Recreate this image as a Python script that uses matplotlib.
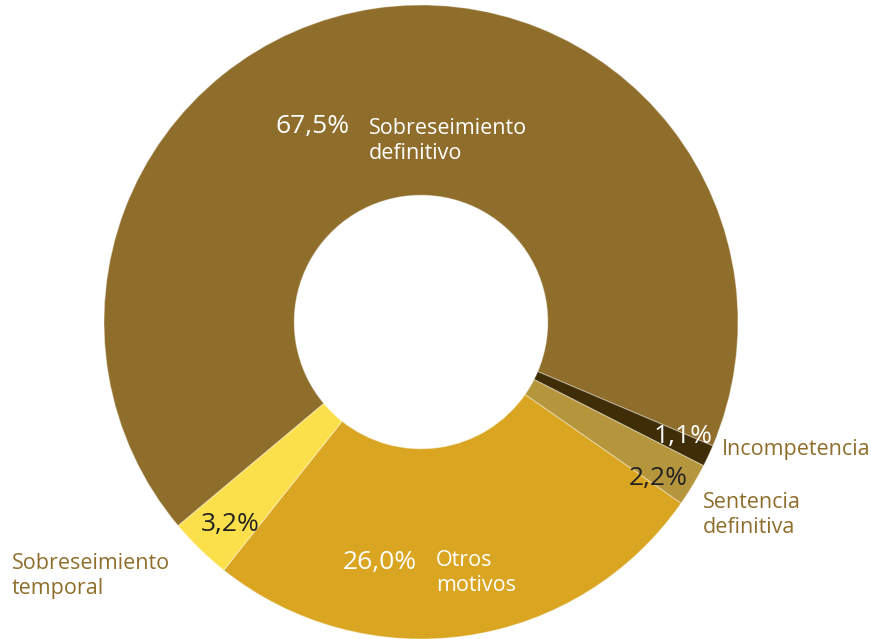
import matplotlib
matplotlib.use("Agg")
import matplotlib.pyplot as plt

categories = ["Sobreseimiento definitivo", "Incompetencia", "Sentencia definitiva",
              "Otros motivos", "Sobreseimiento temporal"]
values = [67.5, 1.1, 2.2, 26.0, 3.2]
pct_labels = ["67,5%", "1,1%", "2,2%", "26,0%", "3,2%"]
colors = ["#8F6E2C", "#3F2D07", "#B5963D", "#DAA521", "#FBE04B"]

plt.rcParams['font.family'] = ['Open Sans', 'DejaVu Sans']

W, H = 871, 639
cx, cy, R = 421, 322, 317
fig = plt.figure(figsize=(W / 100, H / 100), dpi=100)
ax = fig.add_axes([(cx - R) / W, (H - cy - R) / H, 2 * R / W, 2 * R / H])

ax.pie(values, colors=colors, startangle=220, counterclock=False, radius=1,
       wedgeprops=dict(width=0.6, edgecolor=(1, 1, 1, 0.35), linewidth=0.8))
ax.set_xlim(-1, 1)
ax.set_ylim(-1, 1)
ax.set_aspect('equal')
ax.axis('off')

def d(px, py):
    return (px - cx) / R, (cy - py) / R

brown = "#8F6E2C"
pct_style = [("white", (313, 127)), ("white", (683, 437)), ("#222222", (658, 478)),
             ("white", (380, 562)), ("#222222", (230, 524))]
for lab, (col, (px, py)) in zip(pct_labels, pct_style):
    x, y = d(px, py)
    ax.text(x, y, lab, color=col, fontsize=19, ha='center', va='center')

cat_style = [("white", (369, 141), "Sobreseimiento\ndefinitivo"),
             (brown, (722, 449), "Incompetencia"),
             (brown, (703, 515), "Sentencia\ndefinitiva"),
             ("white", (436, 573), "Otros\nmotivos"),
             (brown, (12, 576), "Sobreseimiento\ntemporal")]
for col, (px, py), txt in cat_style:
    x, y = d(px, py)
    ax.text(x, y, txt, color=col, fontsize=15.5, ha='left', va='center',
            linespacing=1.2, clip_on=False)

fig.savefig("out.png", dpi=100)
